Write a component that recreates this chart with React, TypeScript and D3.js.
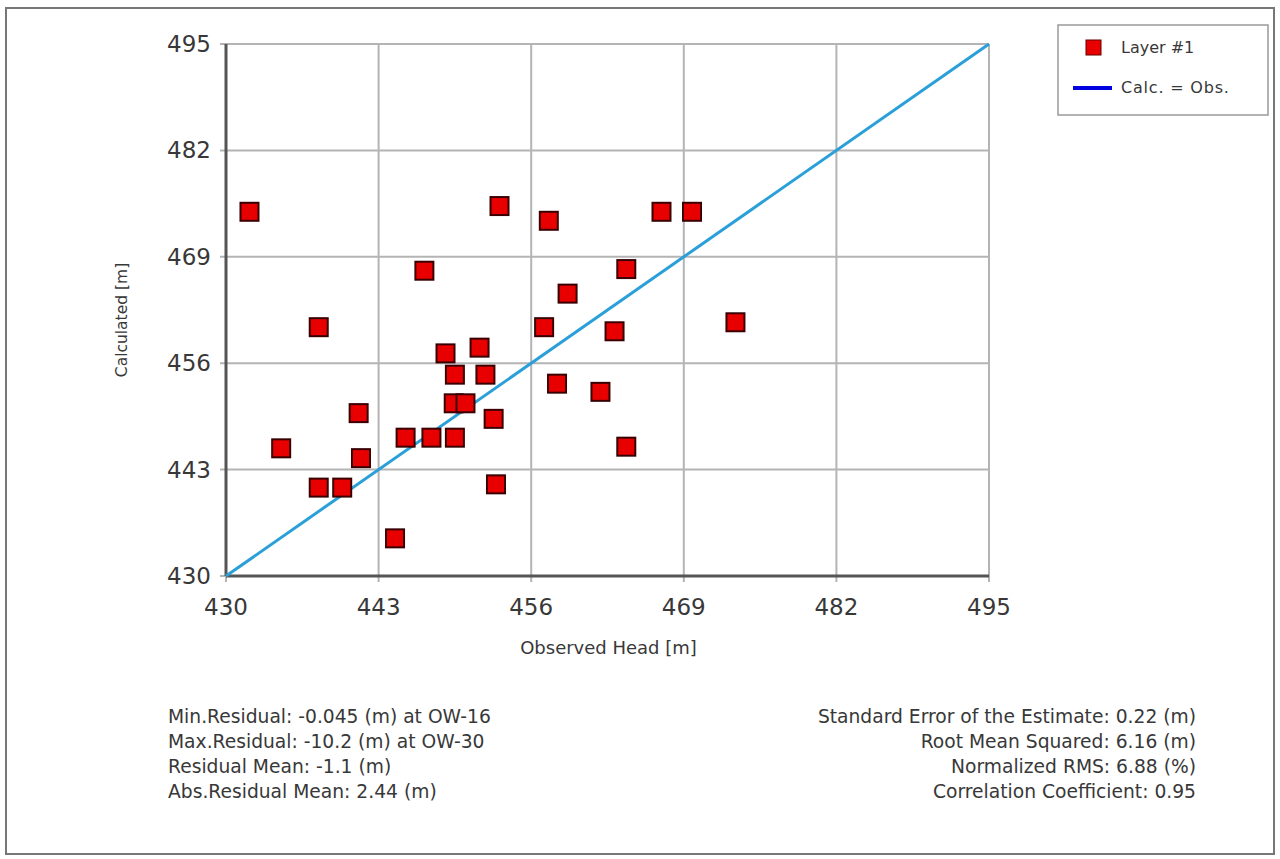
import React from 'react';
import * as d3 from 'd3';

// observed head values (x) for each well
const observed = [
  432.0, 453.3, 457.5, 467.1, 469.7, 446.9, 464.1, 459.1, 437.9, 457.1,
  463.1, 473.4, 448.7, 451.6, 449.5, 452.1, 458.2, 461.9, 449.4, 450.4,
  441.3, 452.8, 434.7, 445.3, 447.5, 449.5, 464.1, 441.5, 437.9, 439.9,
  453.0, 444.4,
];
// calculated head values (y)
const calculated = [
  474.5, 475.2, 473.4, 474.5, 474.5, 467.3, 467.5, 464.5, 460.4, 460.4,
  459.9, 461.0, 457.2, 457.9, 454.6, 454.6, 453.5, 452.5, 451.1, 451.1,
  449.9, 449.2, 445.6, 446.9, 446.9, 446.9, 445.8, 444.4, 440.8, 440.8,
  441.2, 434.6,
];
const ticks = [430, 443, 456, 469, 482, 495];

const leftStats = [
  'Min.Residual: -0.045 (m) at OW-16',
  'Max.Residual: -10.2 (m) at OW-30',
  'Residual Mean: -1.1 (m)',
  'Abs.Residual Mean: 2.44 (m)',
];
const rightStats = [
  'Standard Error of the Estimate: 0.22 (m)',
  'Root Mean Squared: 6.16 (m)',
  'Normalized RMS: 6.88 (%)',
  'Correlation Coefficient: 0.95',
];

const W = 1280, H = 859;
const plot = { left: 226, right: 989, top: 44, bottom: 576 };
const font = '"DejaVu Sans", Verdana, sans-serif';
const ink = '#383838';

export default function App() {
  const x = d3.scaleLinear().domain([430, 495]).range([plot.left, plot.right]);
  const y = d3.scaleLinear().domain([430, 495]).range([plot.bottom, plot.top]);
  const sq = 18;

  return (
    <svg width={W} height={H} style={{ position: 'absolute', left: 0, top: 0, background: '#fff' }}>
      <rect x={6} y={8} width={1268} height={846} fill="#fff" stroke="#777" strokeWidth={2} />

      {/* grid */}
      {ticks.map(t => (
        <g key={'g' + t}>
          <line x1={x(t)} x2={x(t)} y1={plot.top} y2={plot.bottom + 6} stroke="#b4b4b4" strokeWidth={2} />
          <line x1={plot.left - 6} x2={plot.right} y1={y(t)} y2={y(t)} stroke="#b4b4b4" strokeWidth={2} />
        </g>
      ))}

      {/* axes */}
      <line x1={plot.left} x2={plot.left} y1={plot.top} y2={plot.bottom} stroke="#555" strokeWidth={3} />
      <line x1={plot.left} x2={plot.right} y1={plot.bottom} y2={plot.bottom} stroke="#555" strokeWidth={3} />

      {/* tick labels */}
      {ticks.map(t => (
        <text key={'x' + t} x={x(t)} y={plot.bottom + 39} textAnchor="middle" fontFamily={font} fontSize={23} fill={ink}>{t}</text>
      ))}
      {ticks.map(t => (
        <text key={'y' + t} x={plot.left - 15} y={y(t) + 8} textAnchor="end" fontFamily={font} fontSize={23} fill={ink}>{t}</text>
      ))}

      {/* axis titles */}
      <text x={(plot.left + plot.right) / 2 + 1} y={654} textAnchor="middle" fontFamily={font} fontSize={18} fill={ink}>Observed Head [m]</text>
      <text transform={`translate(127,${(plot.top + plot.bottom) / 2 + 10}) rotate(-90)`} textAnchor="middle" fontFamily={font} fontSize={15.5} fill={ink}>Calculated [m]</text>

      {/* 1:1 line */}
      <line x1={x(430)} y1={y(430)} x2={x(495)} y2={y(495)} stroke="#2a9fd8" strokeWidth={3} />

      {/* points */}
      {observed.map((o, i) => (
        <rect key={i} x={x(o) - sq / 2} y={y(calculated[i]) - sq / 2} width={sq} height={sq}
          fill="#e80000" stroke="#3a0000" strokeWidth={2} />
      ))}

      {/* legend */}
      <rect x={1058} y={25} width={210} height={90} fill="#fff" stroke="#999" strokeWidth={1.5} />
      <rect x={1086} y={40} width={15} height={15} fill="#e80000" stroke="#600" strokeWidth={1} />
      <text x={1121} y={53} fontFamily={font} fontSize={16} fill={ink}>Layer #1</text>
      <line x1={1073} x2={1112} y1={88} y2={88} stroke="#0000e0" strokeWidth={4} />
      <text x={1121} y={93} fontFamily={font} fontSize={16} letterSpacing={0.8} fill={ink}>Calc. = Obs.</text>

      {/* statistics */}
      {leftStats.map((s, i) => (
        <text key={'l' + i} x={168} y={723 + i * 25} fontFamily={font} fontSize={18.7} fill={ink}>{s}</text>
      ))}
      {rightStats.map((s, i) => (
        <text key={'r' + i} x={1196} y={723 + i * 25} textAnchor="end" fontFamily={font} fontSize={18.7} fill={ink}>{s}</text>
      ))}
    </svg>
  );
}
